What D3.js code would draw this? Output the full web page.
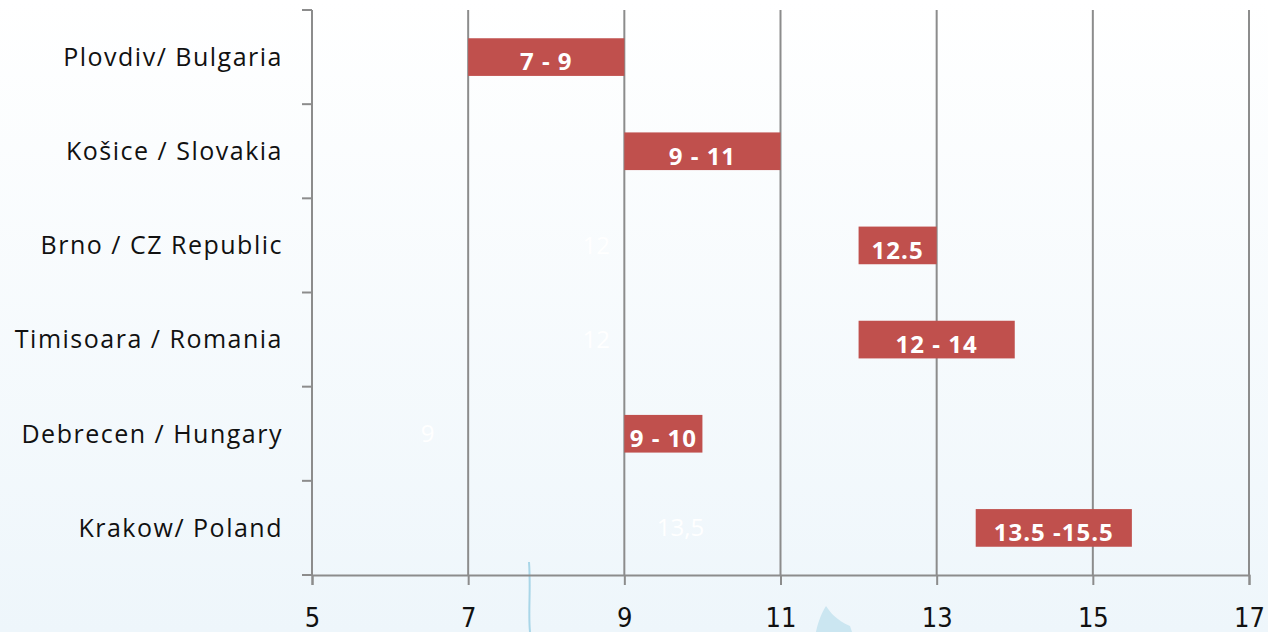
<!DOCTYPE html>
<html lang="en">
<head>
    <meta charset="UTF-8">
    <title>Salary ranges by city</title>
    <script src="https://d3js.org/d3.v7.min.js"></script>
    <style>
        body {
            margin: 0;
            padding: 0;
            background: #fff;
        }
        svg { display: block; }
    </style>
</head>
<body>
    <script>
        // data
        const cities = ["Plovdiv/ Bulgaria", "Košice / Slovakia", "Brno / CZ Republic",
                        "Timisoara / Romania", "Debrecen / Hungary", "Krakow/ Poland"];
        const rangeStart = [7, 9, 12, 12, 9, 13.5];
        const rangeEnd = [9, 11, 13, 14, 10, 15.5];
        const barLabels = ["7 - 9", "9 - 11", "12.5", "12 - 14", "9 - 10", "13.5 -15.5"];
        // faint labels left over from the hidden base series
        const ghostLabels = ["", "", "12", "12", "9", "13,5"];
        const xTicks = [5, 7, 9, 11, 13, 15, 17];

        const width = 1268, height = 632;
        const margin = { top: 10, right: 19, bottom: 57, left: 312 };

        const svg = d3.select("body").append("svg")
            .attr("width", width)
            .attr("height", height);

        // light background gradient
        const defs = svg.append("defs");
        const grad = defs.append("linearGradient")
            .attr("id", "bg").attr("x1", 0).attr("y1", 0).attr("x2", 0).attr("y2", 1);
        grad.append("stop").attr("offset", "0%").attr("stop-color", "#ffffff");
        grad.append("stop").attr("offset", "100%").attr("stop-color", "#eef6fb");
        svg.append("rect").attr("width", width).attr("height", height).attr("fill", "url(#bg)");

        // faint decoration at the bottom
        svg.append("path")
            .attr("d", "M529,562 C531,590 528,612 530,632")
            .attr("fill", "none").attr("stroke", "#a9d6e8").attr("stroke-width", 2);
        svg.append("path")
            .attr("d", "M816,632 C818,622 822,612 826,606 C830,612 836,620 850,626 L852,632 Z")
            .attr("fill", "#cbe6f1");

        const x = d3.scaleLinear()
            .domain([5, 17])
            .range([margin.left, width - margin.right]);

        const y = d3.scaleBand()
            .domain(cities)
            .range([margin.top, height - margin.bottom])
            .paddingInner(0.6)
            .paddingOuter(0.3);

        const plotTop = margin.top, plotBottom = height - margin.bottom;
        const gridColor = "#8c8c8c";

        // vertical gridlines
        svg.append("g")
            .selectAll("line")
            .data(xTicks.slice(1))
            .join("line")
            .attr("x1", d => x(d)).attr("x2", d => x(d))
            .attr("y1", plotTop).attr("y2", plotBottom)
            .attr("stroke", gridColor).attr("stroke-width", 2);

        // x axis
        const xAxis = svg.append("g")
            .attr("transform", `translate(0,${plotBottom})`)
            .call(d3.axisBottom(x).tickValues(xTicks).tickSize(10).tickPadding(23));
        xAxis.select(".domain").attr("stroke", gridColor).attr("stroke-width", 2);
        xAxis.selectAll(".tick line").attr("stroke", gridColor).attr("stroke-width", 2);
        xAxis.selectAll(".tick text")
            .attr("font-family", "'Liberation Sans Narrow', 'DejaVu Sans Condensed', 'Open Sans', sans-serif")
            .attr("font-size", 27)
            .attr("fill", "#111");

        // y axis: line plus ticks at band boundaries
        const boundaries = d3.range(cities.length + 1).map(i => plotTop + i * (plotBottom - plotTop) / cities.length);
        const yAxis = svg.append("g");
        yAxis.append("line")
            .attr("x1", margin.left).attr("x2", margin.left)
            .attr("y1", plotTop).attr("y2", plotBottom)
            .attr("stroke", gridColor).attr("stroke-width", 2);
        yAxis.selectAll("line.tk")
            .data(boundaries)
            .join("line")
            .attr("class", "tk")
            .attr("x1", margin.left - 10).attr("x2", margin.left)
            .attr("y1", d => d).attr("y2", d => d)
            .attr("stroke", gridColor).attr("stroke-width", 2);
        yAxis.selectAll("text")
            .data(cities)
            .join("text")
            .attr("x", 283)
            .attr("y", d => y(d) + y.bandwidth() / 2)
            .attr("dy", "0.35em")
            .attr("text-anchor", "end")
            .attr("font-family", "'Open Sans', Lato, sans-serif")
            .attr("font-size", 25)
            .attr("letter-spacing", 1.5)
            .attr("fill", "#111")
            .text(d => d);

        // ghost labels (white on white)
        svg.append("g")
            .selectAll("text")
            .data(cities)
            .join("text")
            .attr("x", (d, i) => x(rangeStart[i] * 0.72))
            .attr("y", d => y(d) + y.bandwidth() / 2)
            .attr("dy", "0.35em")
            .attr("text-anchor", "middle")
            .attr("font-family", "'Open Sans', sans-serif")
            .attr("font-size", 24)
            .attr("fill", "#ffffff")
            .text((d, i) => ghostLabels[i]);

        // range bars
        svg.append("g")
            .selectAll("rect")
            .data(cities)
            .join("rect")
            .attr("x", (d, i) => x(rangeStart[i]))
            .attr("width", (d, i) => x(rangeEnd[i]) - x(rangeStart[i]))
            .attr("y", d => y(d))
            .attr("height", y.bandwidth())
            .attr("fill", "#c0504d");

        svg.append("g")
            .selectAll("text")
            .data(cities)
            .join("text")
            .attr("x", (d, i) => (x(rangeStart[i]) + x(rangeEnd[i])) / 2)
            .attr("y", d => y(d) + y.bandwidth() / 2 + 5)
            .attr("dy", "0.35em")
            .attr("text-anchor", "middle")
            .attr("font-family", "'Open Sans', Lato, sans-serif")
            .attr("font-weight", "bold")
            .attr("font-size", 24)
            .attr("letter-spacing", 1)
            .attr("fill", "#fff")
            .text((d, i) => barLabels[i]);
    </script>
</body>
</html>
